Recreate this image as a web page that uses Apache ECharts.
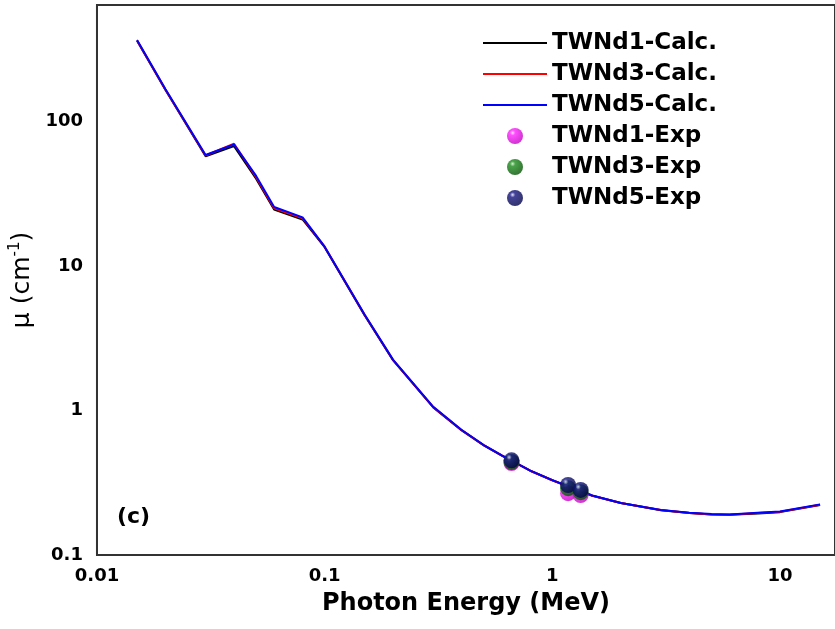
<!DOCTYPE html>
<html>
<head>
<meta charset="utf-8">
<title>Photon energy vs linear attenuation</title>
<script src="https://cdn.jsdelivr.net/npm/echarts@6/dist/echarts.min.js"></script>
<style>
  html, body { margin: 0; padding: 0; background: #fff; }
  #chart { width: 835px; height: 629px; }
</style>
</head>
<body>
<div id="chart"></div>
<script>
// photon energies (MeV) of the calculated curves
const energies = [0.015, 0.02, 0.03, 0.04, 0.05, 0.06, 0.08, 0.1, 0.15, 0.2, 0.3, 0.4, 0.5, 0.6, 0.8, 1, 1.25, 1.5, 2, 3, 4, 5, 6, 8, 10, 15];

// calculated mu (cm-1)
const twnd1Calc = [362, 165, 57.5, 67.5, 40.2, 24.6, 21.0, 13.5, 4.55, 2.22, 1.05, 0.728, 0.574, 0.488, 0.383, 0.329, 0.287, 0.257, 0.229, 0.204, 0.195, 0.191, 0.190, 0.194, 0.198, 0.222];
const twnd3Calc = [364, 166, 58.2, 70.2, 41.2, 25.1, 21.4, 13.6, 4.58, 2.23, 1.055, 0.731, 0.575, 0.489, 0.383, 0.329, 0.287, 0.257, 0.229, 0.205, 0.195, 0.191, 0.190, 0.195, 0.199, 0.223];
const twnd5Calc = [366, 167, 58.6, 69.3, 42, 25.6, 21.7, 13.6, 4.6, 2.24, 1.06, 0.733, 0.577, 0.49, 0.384, 0.330, 0.288, 0.258, 0.229, 0.205, 0.196, 0.192, 0.191, 0.196, 0.200, 0.224];

// experimental points
const expEnergies = [0.662, 1.173, 1.332];
const twnd1Exp = [0.433, 0.268, 0.260];
const twnd3Exp = [0.440, 0.290, 0.272];
const twnd5Exp = [0.452, 0.305, 0.282];

const FONT = '"DejaVu Sans", "Liberation Sans", sans-serif';

const pairs = (xs, ys) => xs.map((x, i) => [x, ys[i]]);

// glossy ball look for the experimental markers
const ball = (light, mid, dark) => ({
    type: 'radial',
    x: 0.35,
    y: 0.3,
    r: 0.75,
    colorStops: [
        { offset: 0, color: light },
        { offset: 0.22, color: mid },
        { offset: 1, color: dark },
    ],
});

const lineSeries = (name, data, color) => ({
    name,
    type: 'line',
    data: pairs(energies, data),
    symbol: 'none',
    lineStyle: { color, width: 2 },
    itemStyle: { color },
});

const expSeries = (name, data, fill) => ({
    name,
    type: 'scatter',
    data: pairs(expEnergies, data),
    symbol: 'circle',
    symbolSize: 16,
    itemStyle: { color: fill },
    z: 3,
});

const tickFmt = (v) => String(Number(v.toPrecision(3)));
const lineIcon = 'path://M0,0H64V2H0Z';

const chart = echarts.init(document.getElementById('chart'));
chart.setOption({
    animation: false,
    backgroundColor: '#fff',
    grid: {
        left: 94,
        right: -3,
        top: 5,
        bottom: 74,
        show: true,
        borderColor: '#333',
        borderWidth: 2,
    },
    legend: {
        orient: 'vertical',
        left: 478,
        top: 25,
        itemWidth: 64,
        itemHeight: 16,
        itemGap: 5,
        textStyle: {
            fontFamily: FONT,
            fontWeight: 'bold',
            fontSize: 23,
            lineHeight: 26,
            color: '#000',
        },
        data: [
            { name: 'TWNd1-Calc.', icon: lineIcon },
            { name: 'TWNd3-Calc.', icon: lineIcon },
            { name: 'TWNd5-Calc.', icon: lineIcon },
            'TWNd1-Exp',
            'TWNd3-Exp',
            'TWNd5-Exp',
        ],
    },
    xAxis: {
        type: 'log',
        logBase: 10,
        min: 0.01,
        max: 17.45,
        name: 'Photon Energy (MeV)',
        nameLocation: 'middle',
        nameGap: 37,
        nameTextStyle: { fontFamily: FONT, fontWeight: 'bold', fontSize: 24, color: '#000' },
        axisLine: { show: true, lineStyle: { color: '#333', width: 2 } },
        axisTick: { show: false },
        splitLine: { show: false },
        minorSplitLine: { show: false },
        axisLabel: {
            margin: 12,
            showMaxLabel: false,
            formatter: tickFmt,
            fontFamily: FONT,
            fontWeight: 'bold',
            fontSize: 18,
            color: '#000',
        },
    },
    yAxis: {
        type: 'log',
        logBase: 10,
        min: 0.1,
        max: 640,
        name: '{a|μ (cm}{b|-1}{a|)}',
        nameLocation: 'middle',
        nameGap: 58,
        nameTextStyle: {
            rich: {
                a: { fontFamily: FONT, fontSize: 25, color: '#000', lineHeight: 28 },
                b: { fontFamily: FONT, fontSize: 15, color: '#000', verticalAlign: 'top', lineHeight: 28 },
            },
        },
        axisLine: { show: true, lineStyle: { color: '#333', width: 2 } },
        axisTick: { show: false },
        splitLine: { show: false },
        minorSplitLine: { show: false },
        axisLabel: {
            margin: 14,
            showMaxLabel: false,
            formatter: tickFmt,
            fontFamily: FONT,
            fontWeight: 'bold',
            fontSize: 18,
            color: '#000',
        },
    },
    graphic: [
        {
            type: 'text',
            left: 117,
            top: 506,
            style: { text: '(c)', font: 'bold 22px ' + FONT, fill: '#000' },
        },
    ],
    series: [
        lineSeries('TWNd1-Calc.', twnd1Calc, '#000000'),
        lineSeries('TWNd3-Calc.', twnd3Calc, '#ff0000'),
        lineSeries('TWNd5-Calc.', twnd5Calc, '#0000ff'),
        expSeries('TWNd1-Exp', twnd1Exp, ball('#ffd6ff', '#ff22ff', '#c000c0')),
        expSeries('TWNd3-Exp', twnd3Exp, ball('#c8f0c8', '#1c8c1c', '#005000')),
        expSeries('TWNd5-Exp', twnd5Exp, ball('#e0e0ff', '#14147e', '#000045')),
    ],
});
</script>
</body>
</html>
